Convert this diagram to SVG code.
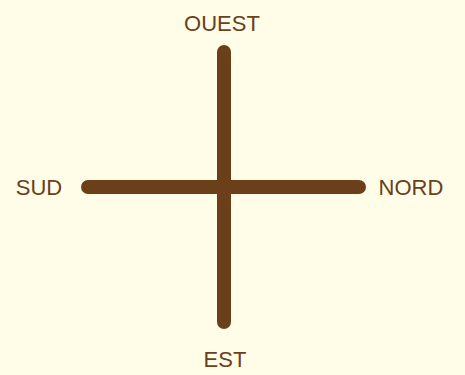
<svg xmlns="http://www.w3.org/2000/svg" width="465" height="375" viewBox="0 0 465 375">
<style>
.lbl{font-family:"Liberation Sans",Arial,sans-serif;font-size:22px;fill:#6b4020;text-anchor:middle}
.ax{stroke:#6b3f1a;stroke-width:14;stroke-linecap:round;fill:none}
</style>
<rect width="465" height="375" fill="#fffde8"/>
<g id="connectors">
<line class="ax" x1="224" y1="52" x2="224" y2="322"/>
<line class="ax" x1="88" y1="187" x2="359" y2="187"/>
</g>
<g id="ouest"><text class="lbl" x="222" y="31">OUEST</text></g>
<g id="sud"><text class="lbl" x="39" y="195">SUD</text></g>
<g id="nord"><text class="lbl" x="411" y="195">NORD</text></g>
<g id="est"><text class="lbl" x="225" y="367">EST</text></g>
</svg>
